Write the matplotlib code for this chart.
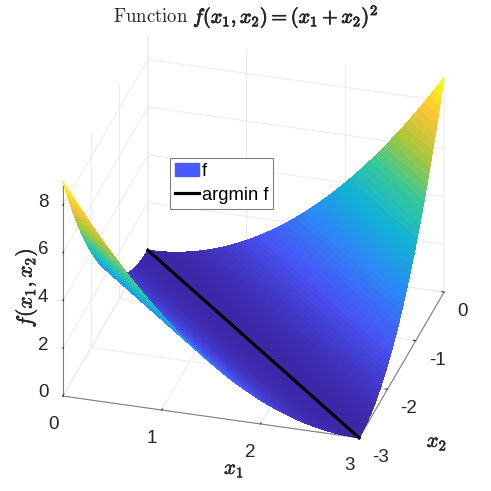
import numpy as np
import matplotlib
matplotlib.use('Agg')
import matplotlib.pyplot as plt
import matplotlib.patheffects as pe
from matplotlib.colors import LinearSegmentedColormap
from matplotlib.lines import Line2D
from matplotlib.patches import Patch

plt.rcParams['font.family'] = ['Liberation Sans', 'DejaVu Sans']
plt.rcParams['mathtext.fontset'] = 'cm'
plt.rcParams['axes.unicode_minus'] = False

# Data
x1_ticks = [0, 1, 2, 3]
x2_ticks = [-3, -2, -1, 0]
z_ticks = [0, 2, 4, 6, 8]
z_max = 9

# the surface is drawn in bands parallel to the valley line, s = x1 + x2
band_s = [i / 20 for i in range(-60, 61)]

# height by distance from the valley line, in band steps
z_by_step = [0.0000, 0.0025, 0.0100, 0.0225, 0.0400, 0.0625, 0.0900, 0.1225, 0.1600, 0.2025,
             0.2500, 0.3025, 0.3600, 0.4225, 0.4900, 0.5625, 0.6400, 0.7225, 0.8100, 0.9025,
             1.0000, 1.1025, 1.2100, 1.3225, 1.4400, 1.5625, 1.6900, 1.8225, 1.9600, 2.1025,
             2.2500, 2.4025, 2.5600, 2.7225, 2.8900, 3.0625, 3.2400, 3.4225, 3.6100, 3.8025,
             4.0000, 4.2025, 4.4100, 4.6225, 4.8400, 5.0625, 5.2900, 5.5225, 5.7600, 6.0025,
             6.2500, 6.5025, 6.7600, 7.0225, 7.2900, 7.5625, 7.8400, 8.1225, 8.4100, 8.7025,
             9.0000]

# valley line
line_x1 = [0, 3]
line_x2 = [0, -3]
line_z = [0, 0]

parula_colors = [(0.2422, 0.1504, 0.6603), (0.2810, 0.3228, 0.9579),
                 (0.1786, 0.5289, 0.9682), (0.0689, 0.6948, 0.8394),
                 (0.2161, 0.7843, 0.5923), (0.6720, 0.7793, 0.2227),
                 (0.9970, 0.7659, 0.2199), (0.9769, 0.9839, 0.0805)]
parula = LinearSegmentedColormap.from_list('parula', parula_colors)

# each band runs across the square from one edge to the other
s = np.array(band_s)
start_x1 = np.maximum(0, s)
end_x1 = np.minimum(3, s + 3)
X1 = np.column_stack([start_x1, end_x1])
X2 = np.column_stack([s - start_x1, s - end_x1])
z_band = [z_by_step[abs(i - 60)] for i in range(121)]
Z = np.column_stack([z_band, z_band])

fig = plt.figure(figsize=(4.91, 4.91), dpi=100)
ax = fig.add_axes([0.0028, 0.0043, 1, 1], projection='3d', computed_zorder=False)
ax.set_proj_type('ortho')
ax.view_init(elev=29.5, azim=-74)
ax.set_box_aspect((1, 1, 0.8), zoom=0.99)

ax.plot_surface(X1, X2, Z, rstride=1, cstride=1, cmap=parula, vmin=0, vmax=z_max,
                linewidth=0, antialiased=False, shade=False, zorder=1)
ax.plot(line_x1, line_x2, line_z, color='black', lw=2.3, zorder=5)

ax.set_xlim(0, 3)
ax.set_ylim(-3, 0)
ax.set_zlim(0, z_max)
ax.set_xticks(x1_ticks)
ax.set_yticks(x2_ticks)
ax.set_zticks(z_ticks)
ax.tick_params(labelsize=13.5, colors='#262626', pad=2)
ax.yaxis.set_tick_params(pad=0)
ax.zaxis.set_tick_params(pad=1.5)
ax.zaxis.set_ticks_position('lower')
for t in ax.xaxis.get_major_ticks():
    t.label1.set_ha('right')
for t in ax.yaxis.get_major_ticks():
    t.label1.set_ha('left')
for t in ax.zaxis.get_major_ticks():
    t.label1.set_ha('center')
    t.label1.set_va('bottom')

for axis in (ax.xaxis, ax.yaxis, ax.zaxis):
    axis.set_pane_color((1, 1, 1, 0))
    axis.line.set_color('#808080')
    axis.line.set_linewidth(0.8)
    axis._axinfo['grid']['color'] = '#e8e8e8'
    axis._axinfo['grid']['linewidth'] = 0.6
    axis._axinfo['tick']['outward_factor'] = 0.1
    axis._axinfo['tick']['inward_factor'] = 0.0
    axis._axinfo['tick']['linewidth'] = {True: 0.7, False: 0.7}
    axis._axinfo['tick']['color'] = '#808080'

bold = [pe.withStroke(linewidth=0.6, foreground='#262626')]
bold_thin = [pe.withStroke(linewidth=0.4, foreground='#262626')]

# axis labels
fig.text(234 / 491, 1 - 470 / 491, r'$x_1$', fontsize=15, color='#262626',
         ha='center', va='center', path_effects=bold_thin)
fig.text(437 / 491, 1 - 443 / 491, r'$x_2$', fontsize=15, color='#262626',
         ha='center', va='center', path_effects=bold_thin)
fig.text(26 / 491, 1 - 288 / 491, r'$f(x_1,x_2)$', fontsize=15.5, color='#262626',
         ha='center', va='center', rotation=90, path_effects=bold_thin)

# title, only the formula is bold
fig.text(113 / 491, 1 - 17 / 491, r'$\mathrm{Function}$', fontsize=13.5, color='#262626',
         ha='left', va='center')
fig.text(193 / 491, 1 - 17 / 491, r'$f(x_1,x_2)=(x_1+x_2)^2$', fontsize=14.6, color='#262626',
         ha='left', va='center', path_effects=bold)

handles = [Patch(facecolor='#485afa', edgecolor='#485afa', label='f'),
           Line2D([0], [0], color='black', lw=2.3, label='argmin f')]
leg = fig.legend(handles=handles, loc='upper left',
                 bbox_to_anchor=(170 / 491, 1 - 158 / 491), bbox_transform=fig.transFigure,
                 fontsize=13.2, fancybox=False, framealpha=1, edgecolor='#808080',
                 borderpad=0.25, labelspacing=0.4, handlelength=1.35, handletextpad=0.15,
                 borderaxespad=0)
leg.get_frame().set_linewidth(0.8)

fig.savefig('out.png', dpi=100)
